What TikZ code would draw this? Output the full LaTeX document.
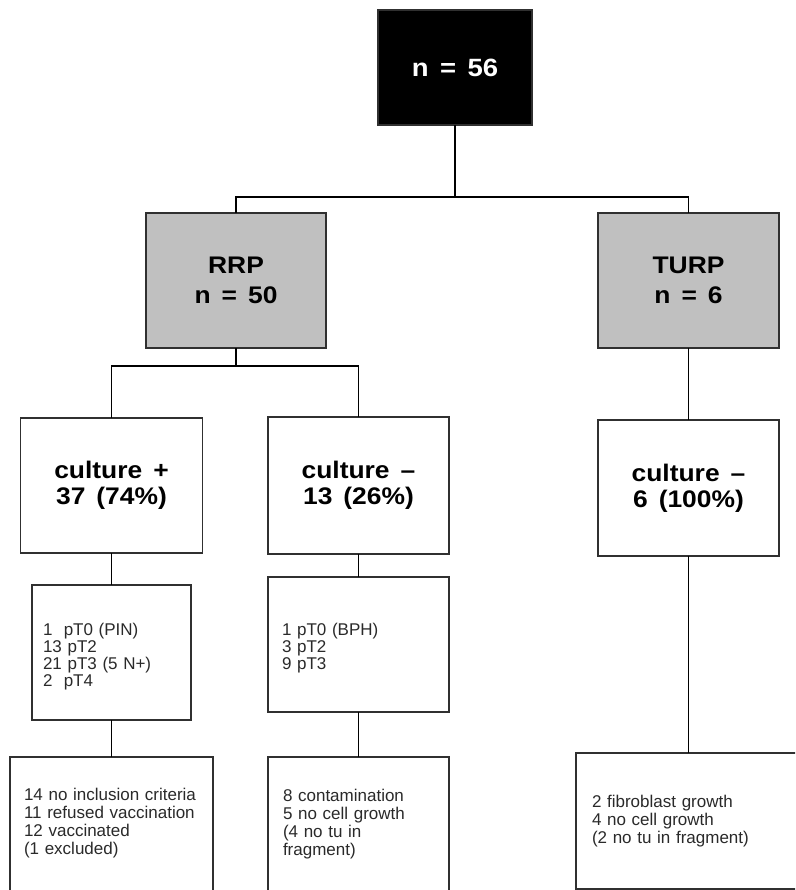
\documentclass[tikz,border=0pt]{standalone}
\usepackage{fontspec}
\setmainfont{Liberation Sans}
\newfontfamily\headfont[FakeStretch=1.1,WordSpace=1.5]{Liberation Sans}
\usetikzlibrary{positioning}
\definecolor{boxline}{HTML}{303030}
\definecolor{boxgray}{HTML}{C0C0C0}
\definecolor{listtext}{HTML}{2A2A2A}

\begin{document}
\begin{tikzpicture}[x=1pt,y=-1pt,every node/.style={outer sep=0pt},
  headbox/.style={draw=boxline,line width=1.8pt,inner sep=0pt,align=center,
    font=\headfont\bfseries\fontsize{24}{26}\selectfont},
  listbox/.style={draw=boxline,line width=1.8pt,anchor=north west,align=left,
    text height=12pt,text=listtext,font=\fontsize{17}{17}\selectfont},
  notebox/.style={listbox,font=\fontsize{17}{18}\selectfont},
  link/.style={line width=1.6pt}]

  \useasboundingbox (0,0) rectangle (795,890);
  \clip (0,0) rectangle (795,890);
  \fill[white] (0,0) rectangle (795,890);

  % all patients
  \node[headbox,fill=black,text=white,minimum width=154pt,minimum height=115pt,
    font=\headfont\bfseries\fontsize{25}{26}\selectfont] (top) at (455,67.5) {n = 56};

  % surgery
  \node[headbox,fill=boxgray,minimum width=180pt,minimum height=135pt,
    font=\headfont\bfseries\fontsize{24}{30}\selectfont] (rrp) at (236,280.5) {RRP\\n = 50};
  \node[headbox,fill=boxgray,minimum width=181pt,minimum height=135pt,
    font=\headfont\bfseries\fontsize{24}{30}\selectfont] (turp) at (688.5,280.5) {TURP\\n = 6};

  % culture
  \node[headbox,minimum width=182pt,minimum height=135pt] (cplus) at (111.5,485.5) {culture +\\37 (74\%)};
  \node[headbox,minimum width=181pt,minimum height=137pt] (cminus) at (358.5,485.5) {culture –\\13 (26\%)};
  \node[headbox,minimum width=181pt,minimum height=136pt] (cturp) at (688.5,488) {culture –\\6 (100\%)};

  % stages
  \node[listbox,inner xsep=11pt,inner ysep=38pt,text width=137pt,text depth=47pt] (ptl) at (32,585)
    {1\ \ pT0 (PIN)\\13 pT2\\21 pT3 (5 N+)\\2\ \ pT4};
  \node[listbox,inner xsep=14pt,inner ysep=46pt,text width=153pt,text depth=31pt] (ptm) at (268,577)
    {1 pT0 (BPH)\\3 pT2\\9 pT3};

  % outcome
  \node[notebox,inner xsep=14pt,inner ysep=31pt,text width=175pt,text depth=76pt] (bl) at (10,757)
    {14 no inclusion criteria\\11 refused vaccination\\12 vaccinated\\(1 excluded)};
  \node[notebox,inner xsep=15pt,inner ysep=32pt,text width=151pt,text depth=74pt] (bm) at (268,757)
    {8 contamination\\5 no cell growth\\(4 no tu in\\fragment)};
  \node[notebox,inner xsep=16pt,inner ysep=42pt,text width=215pt,text depth=40pt] (br) at (576,753)
    {2 fibroblast growth\\4 no cell growth\\(2 no tu in fragment)};

  % links
  \coordinate (bus1) at (455,197);
  \draw[link] (top.south) -- (bus1) -| (rrp.north);
  \draw[link] (bus1) -| (turp.north);
  \coordinate (bus2) at (236,366);
  \draw[link] (rrp.south) -- (bus2) -| (cplus.north);
  \draw[link] (bus2) -| (cminus.north);
  \draw[link] (turp.south) -- (cturp.north);
  \draw[link] (cplus.south) -- (ptl.north);
  \draw[link] (ptl.south) -- (bl.north);
  \draw[link] (cminus.south) -- (ptm.north);
  \draw[link] (ptm.south) -- (bm.north);
  \draw[link] (cturp.south) -- (cturp.south |- br.north);
\end{tikzpicture}
\end{document}
